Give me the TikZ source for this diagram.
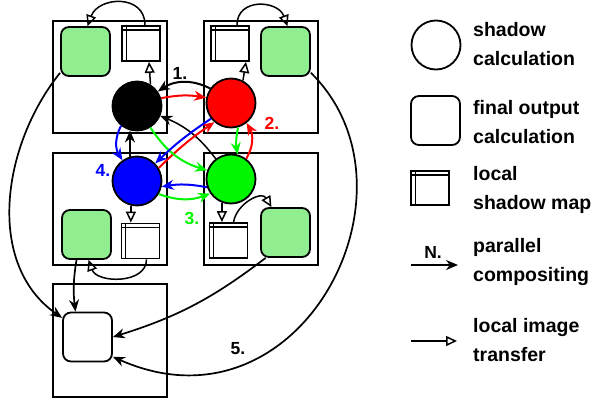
\documentclass[tikz,border=0pt]{standalone}
\usepackage{fontspec}
\setmainfont{Liberation Sans}
\usetikzlibrary{arrows.meta, positioning, calc}
\definecolor{tilegreen}{RGB}{144, 238, 144}
\definecolor{procred}{RGB}{255, 0, 0}
\definecolor{procgreen}{RGB}{0, 245, 0}
\definecolor{procblue}{RGB}{0, 0, 255}

\begin{document}
\begin{tikzpicture}[x=1pt, y=-1pt,
	cell/.style={draw, line width=2pt, minimum width=114pt, minimum height=112pt, inner sep=0pt},
	tile/.style={draw, line width=1.8pt, rounded corners=8pt, minimum size=49pt, inner sep=0pt, fill=tilegreen},
	outtile/.style={tile, fill=white},
	proc/.style={circle, draw, line width=1.8pt, minimum size=49pt, inner sep=0pt},
	shmap/.style={draw, fill=white, line width=1.8pt, minimum width=38pt, minimum height=35pt, inner sep=0pt,
		path picture={
			\draw[line width=1.3pt] ([xshift=4.3pt]path picture bounding box.south west) -- ([xshift=4.3pt]path picture bounding box.north west);
			\draw[line width=1.3pt] ([yshift=-4pt]path picture bounding box.north west) -- ([yshift=-4pt]path picture bounding box.north east);}},
	xfer/.style={line width=1.5pt, -{Triangle[open, length=11pt, width=10pt]}},
	comp/.style={line width=2pt, -{Stealth[length=12pt, width=10pt]}},
	steplabel/.style={font=\fontsize{17.5}{17.5}\selectfont\bfseries, inner sep=0pt},
	legtext/.style={anchor=west, align=left, font=\fontsize{19.5}{29}\selectfont\bfseries, inner sep=0pt}]
	\useasboundingbox (0,0) rectangle (592,399);
	
	\node[cell] (cellA) at (110,77) {};
	\node[cell] (cellB) at (260.5,77) {};
	\node[cell] (cellC) at (110,209) {};
	\node[cell] (cellD) at (260.5,209) {};
	\node[cell, minimum height=113pt] (cellE) at (110,340.5) {};
	
	\node[tile] (tileA) at (85.5,51.5) {};
	\node[shmap] (mapA) at (141,43.5) {};
	\node[shmap] (mapB) at (230,43.5) {};
	\node[tile] (tileB) at (285.5,51.5) {};
	\node[tile] (tileC) at (86.5,234.5) {};
	\node[shmap] (mapC) at (140.5,241) {};
	\node[shmap] (mapD) at (228.5,240.5) {};
	\node[tile] (tileD) at (285.5,232.5) {};
	\node[outtile] (final) at (87.5,337) {};
	
	\node[proc, fill=black] (procK) at (137,106) {};
	\node[proc, fill=procred] (procR) at (231,103) {};
	\node[proc, fill=procblue] (procB) at (137,181) {};
	\node[proc, fill=procgreen] (procG) at (231,179) {};
	
	% local image transfer
	\draw[xfer] ([xshift=4pt]mapA.north) to[out=90, in=70, looseness=1.4] ([xshift=2pt]tileA.north);
	\draw[xfer] (procK.58) -- ([xshift=8pt]mapA.south);
	\draw[xfer] ([xshift=7pt]mapB.north) to[out=90, in=110, looseness=1.4] ([xshift=2pt]tileB.north);
	\draw[xfer] (procR.62) -- ([xshift=16pt]mapB.south);
	\draw[xfer] (procB.-104) -- (procB.-104 |- mapC.north);
	\draw[xfer] (procG.-111) -- (procG.-111 |- mapD.north);
	\draw[xfer] ([xshift=5pt]mapD.north) to[out=80, in=120, looseness=1.2] (tileD.119);
	\draw[xfer] ([xshift=6pt]mapC.south) to[out=-90, in=-70, looseness=1.1] ([xshift=2pt]tileC.south);
	
	% parallel compositing
	\draw[comp] (procR.145) to[bend right=30] (procK.35);
	\draw[comp] (procB.106) -- (procK.-106);
	\draw[comp, line width=1.5pt] (procG.127) to[bend right=15] (procK.-23);
	\node[steplabel] (stepA) at (180,73) {1.};
	
	\draw[comp, procred] (procK.18) to[bend left=10] (procR.168);
	\draw[comp, procred] (procB.31) to[bend left=5] (procR.-131);
	\draw[comp, procred] (procG.53) to[bend right=30] (procR.-52);
	\node[steplabel, text=procred] (stepB) at (272,123) {2.};
	
	\draw[comp, procgreen] (procK.-58) to[bend right=20] (procG.160);
	\draw[comp, procgreen] (procR.-74) to[bend right=10] (procG.75);
	\draw[comp, procgreen] (procB.-31) to[bend right=20] (procG.-145);
	\node[steplabel, text=procgreen] (stepC) at (192,218) {3.};
	
	\draw[comp, procblue] (procK.-129) to[bend right=30] (procB.125);
	\draw[comp, procblue] (procR.218) to[bend right=5] (procB.44);
	\draw[comp, procblue] (procG.199) to[bend right=10] (procB.-13);
	\node[steplabel, text=procblue] (stepD) at (103,170) {4.};
	
	% final output
	\draw[comp, line width=1.7pt] (tileA.-140) .. controls (2,145) and (-15,264) .. (final.143);
	\draw[comp, line width=1.7pt] ([xshift=-10pt]tileC.south) to[bend right=8] ([xshift=-12pt]final.north);
	\draw[comp, line width=1.7pt] (tileD.-128) to[bend left=10] (final.east);
	\draw[comp, line width=1.7pt] (tileB.-40) .. controls (430,190) and (300,440) .. (final.-38);
	\node[steplabel] (stepE) at (238,349) {5.};
	
	% legend
	\node[proc] (legProc) at (436,45) {};
	\node[legtext] (txtProc) at (473,44) {shadow\\calculation};
	\node[outtile] (legFinal) at (435.5,120.5) {};
	\node[legtext] (txtFinal) at (473,122) {final output\\calculation};
	\node[shmap, minimum height=34pt] (legMap) at (430,188) {};
	\node[legtext] (txtMap) at (473,190) {local\\shadow map};
	\coordinate (legCompA) at (411,265);
	\coordinate (legCompB) at (458,265);
	\draw[comp, line width=2.2pt] (legCompA) -- (legCompB);
	\node[steplabel] (legN) at (433,252) {N.};
	\node[legtext] (txtComp) at (473,262) {parallel\\compositing};
	\coordinate (legXferA) at (411,341);
	\coordinate (legXferB) at (457,341);
	\draw[xfer] (legXferA) -- (legXferB);
	\node[legtext] (txtXfer) at (473,340) {local image\\transfer};
\end{tikzpicture}
\end{document}
